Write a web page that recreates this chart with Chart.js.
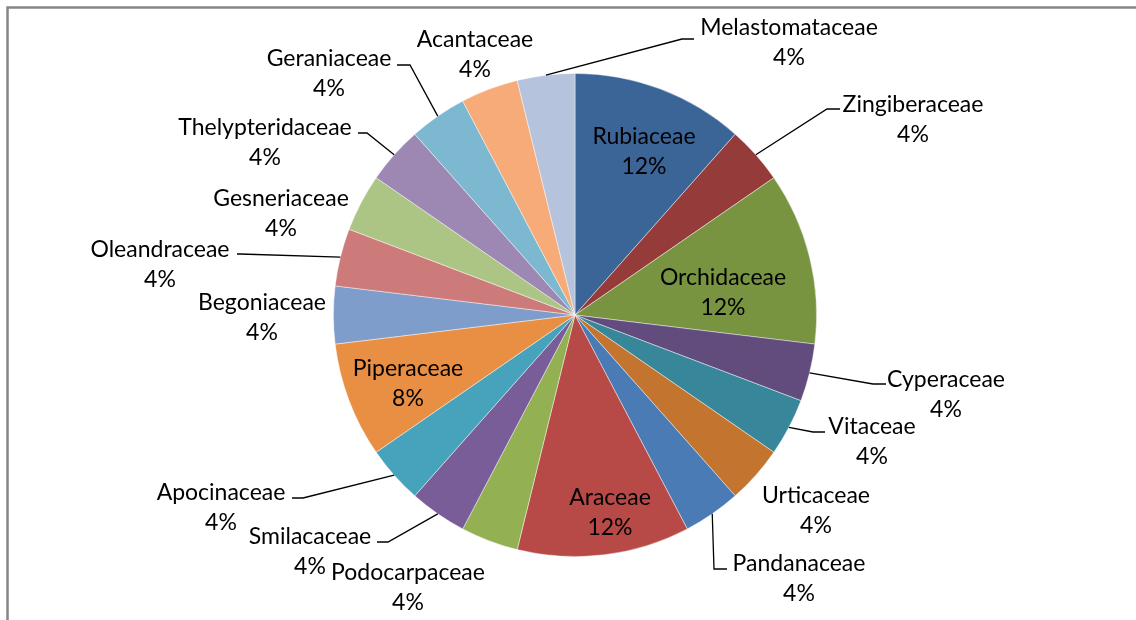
<!DOCTYPE html>
<html>
<head>
<meta charset="utf-8">
<script src="https://cdn.jsdelivr.net/npm/chart.js@4/dist/chart.umd.min.js"></script>
<style>
  html, body { margin: 0; padding: 0; background: #fff; }
  #c { display: block; }
</style>
</head>
<body>
<canvas id="c" width="1136" height="620"></canvas>
<script>
// ---- data ----
const categories = ["Rubiaceae","Zingiberaceae","Orchidaceae","Cyperaceae","Vitaceae","Urticaceae","Pandanaceae","Araceae","Podocarpaceae","Smilacaceae","Apocinaceae","Piperaceae","Begoniaceae","Oleandraceae","Gesneriaceae","Thelypteridaceae","Geraniaceae","Acantaceae","Melastomataceae"];
const counts = [3,1,3,1,1,1,1,3,1,1,1,2,1,1,1,1,1,1,1];
const colors = ["#3B6497","#953B39","#789440","#624C7E","#37869A","#C3742F","#4A7BB5","#B74A47","#93B153","#795D98","#47A3BC","#E88F43","#7F9DCB","#CC7B7A","#ADC584","#9C88B3","#7CB8CF","#F6AB78","#B6C3DC"];

// ---- label layout (text block placement, line-1 baseline) ----
const labelX = [644,913,723,946,872,816,799,610,408,310,221,408,262,160,281,265,329,475,789];
const labelY = [144,112,285,387,434,503,571,505,580,544,500,376,310,257,206,135,66,47,35];
// leader lines: [elbowX, elbowY, endX] or null
const leaders = [null,[827,109,840],null,[873,384,886],[813,432,825],null,[714,569,727],null,null,[388,542,377],[303,498,292],null,null,[240,254,237],null,[367,133,358],[410,65,397],null,[682,39,694]];

const total = counts.reduce((a,b)=>a+b,0);
const FONT = '23px Lato, "Open Sans", sans-serif';
const LINE = 30;

const labelPlugin = {
  id: 'labels',
  beforeDraw(chart) {
    const ctx = chart.ctx;
    ctx.save();
    ctx.strokeStyle = '#868686';
    ctx.lineWidth = 2.5;
    ctx.beginPath();
    ctx.moveTo(7.5, 620);
    ctx.lineTo(7.5, 7.5);
    ctx.lineTo(1136, 7.5);
    ctx.stroke();
    ctx.restore();
  },
  afterDatasetsDraw(chart) {
    const ctx = chart.ctx;
    const meta = chart.getDatasetMeta(0);
    ctx.save();
    ctx.strokeStyle = '#000';
    ctx.lineWidth = 1.3;
    meta.data.forEach((arc, i) => {
      const L = leaders[i];
      if (!L) return;
      const mid = (arc.startAngle + arc.endAngle) / 2;
      const sx = arc.x + arc.outerRadius * Math.cos(mid);
      const sy = arc.y + arc.outerRadius * Math.sin(mid);
      ctx.beginPath();
      ctx.moveTo(sx, sy);
      ctx.lineTo(L[0], L[1]);
      ctx.lineTo(L[2], L[1]);
      ctx.stroke();
    });
    ctx.fillStyle = '#000';
    ctx.font = FONT;
    ctx.textAlign = 'center';
    ctx.textBaseline = 'alphabetic';
    categories.forEach((name, i) => {
      const pct = Math.round(counts[i] / total * 100) + '%';
      ctx.fillText(name, labelX[i], labelY[i]);
      ctx.fillText(pct, labelX[i], labelY[i] + LINE);
    });
    ctx.restore();
  }
};

new Chart(document.getElementById('c'), {
  type: 'pie',
  data: {
    labels: categories,
    datasets: [{
      data: counts,
      backgroundColor: colors,
      borderColor: 'rgba(255,255,255,0.55)',
      borderWidth: 0.8
    }]
  },
  options: {
    responsive: false,
    animation: false,
    layout: { padding: { left: 333, right: 319, top: 73, bottom: 63 } },
    plugins: { legend: { display: false }, tooltip: { enabled: false } }
  },
  plugins: [labelPlugin]
});
</script>
</body>
</html>
